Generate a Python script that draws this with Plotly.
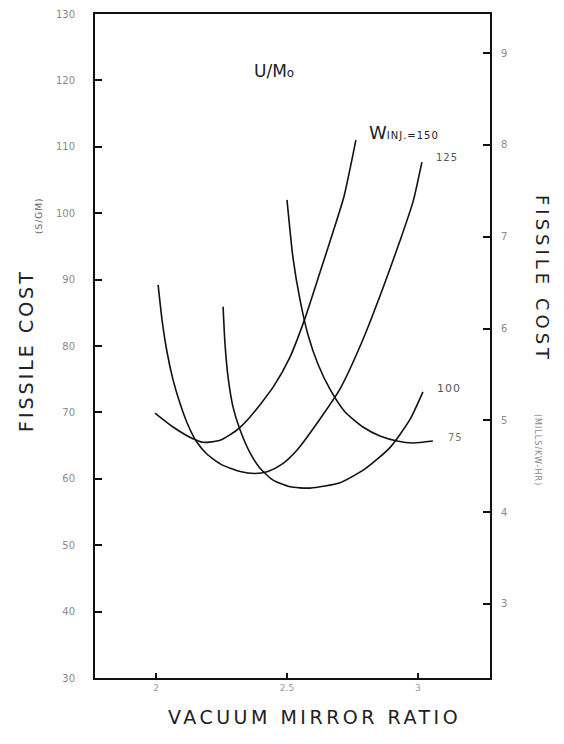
import plotly.graph_objects as go

# ---- data ----
w150_ratio = [1.996, 2.065, 2.137, 2.179, 2.244, 2.309, 2.359, 2.447, 2.511, 2.569, 2.626, 2.676, 2.718, 2.763]
w150_cost = [69.9, 67.8, 66.1, 65.5, 65.8, 67.35, 69.3, 73.8, 78.3, 84.2, 91.1, 97.2, 102.6, 111.0]

w125_ratio = [2.008, 2.023, 2.042, 2.065, 2.092, 2.122, 2.153, 2.195, 2.252, 2.321, 2.378, 2.427, 2.481, 2.542,
              2.626, 2.702, 2.786, 2.866, 2.931, 2.981, 3.015]
w125_cost = [89.2, 83.9, 79.1, 74.9, 71.3, 68.1, 65.7, 63.7, 62.1, 61.1, 60.8, 61.1, 62.2, 64.5,
             69.0, 73.5, 80.6, 88.7, 95.8, 101.7, 107.7]

w100_ratio = [2.256, 2.263, 2.275, 2.294, 2.321, 2.359, 2.397, 2.447, 2.511, 2.588, 2.702, 2.798, 2.893, 2.969, 3.019]
w100_cost = [85.9, 80.5, 75.3, 70.8, 67.35, 63.9, 61.6, 59.8, 58.8, 58.6, 59.4, 61.5, 64.7, 68.9, 73.1]

w75_ratio = [2.500, 2.523, 2.550, 2.580, 2.618, 2.664, 2.721, 2.790, 2.855, 2.920, 2.981, 3.057]
w75_cost = [102.0, 93.25, 86.9, 81.7, 77.3, 73.5, 70.1, 67.8, 66.45, 65.7, 65.4, 65.7]

x_tickvals = [2, 2.5, 3]
x_ticktext = ["2", "2.5", "3"]
left_tickvals = [30, 40, 50, 60, 70, 80, 90, 100, 110, 120, 130]
right_tickvals = [3, 4, 5, 6, 7, 8, 9]

series = [
    (w150_ratio, w150_cost, "150"),
    (w125_ratio, w125_cost, "125"),
    (w100_ratio, w100_cost, "100"),
    (w75_ratio, w75_cost, "75"),
]

fig = go.Figure()
for xs, ys, name in series:
    fig.add_trace(go.Scatter(x=xs, y=ys, mode="lines", name=name,
                             line=dict(color="#111111", width=1.6, shape="spline", smoothing=0.6),
                             showlegend=False, hoverinfo="skip"))

# dummy trace for right axis
fig.add_trace(go.Scatter(x=[None], y=[None], yaxis="y2", showlegend=False))

FONT = "DejaVu Sans, Arial, sans-serif"
tickfont = dict(family=FONT, size=10, color="#8a8a8a")

# page body adds an 8px margin; figure sized to fit the 564x744 window
fig.update_layout(
    width=548, height=728,
    margin=dict(l=87, r=66, t=6, b=58, autoexpand=False),
    paper_bgcolor="white", plot_bgcolor="white",
    xaxis=dict(range=[1.767, 3.275], tickvals=x_tickvals, ticktext=x_ticktext,
               ticks="inside", ticklen=5, tickwidth=1.5, tickcolor="#111",
               showline=True, linecolor="#111", linewidth=1.8, mirror=True, automargin=False,
               showgrid=False, zeroline=False, tickfont=dict(family=FONT, size=9, color="#999")),
    yaxis=dict(range=[30, 130], tickvals=left_tickvals,
               ticks="inside", ticklen=7, tickwidth=1.8, tickcolor="#111",
               showline=True, linecolor="#111", linewidth=2, mirror=True, automargin=False,
               showgrid=False, zeroline=False, tickfont=tickfont, ticklabelstandoff=16),
    yaxis2=dict(range=[2.194, 9.425], tickvals=right_tickvals, overlaying="y", side="right",
                ticks="inside", ticklen=7, tickwidth=1.8, tickcolor="#111", automargin=False,
                showline=False, showgrid=False, zeroline=False, tickfont=tickfont,
                ticklabelstandoff=10),
)

# positions given in screenshot pixels, plot area spans x 95..490, y 14..678
def px(xp):
    return (xp - 95) / 395.0

def py(yp):
    return (678 - yp) / 664.0

sp = lambda s, ls: f"<span style='letter-spacing:{ls}px'>{s}</span>"

annots = [
    dict(text=sp("FISSILE COST", 3), x=px(26), y=py(351), textangle=-90,
         font=dict(family=FONT, size=19, color="#222")),
    dict(text=sp("(S/GM)", 1), x=px(39), y=py(216), textangle=-90,
         font=dict(family=FONT, size=9, color="#666")),
    dict(text=sp("FISSILE COST", 4), x=px(543), y=py(279), textangle=90,
         font=dict(family=FONT, size=18, color="#222")),
    dict(text=sp("(MILLS/KW-HR)", 1), x=px(537), y=py(450), textangle=90,
         font=dict(family=FONT, size=8, color="#888")),
    dict(text=sp("VACUUM MIRROR RATIO", 3.5), x=px(314), y=py(717),
         font=dict(family=FONT, size=19, color="#222")),
    dict(text="U/M<span style='font-size:12px'>o</span>", x=px(274), y=py(71),
         font=dict(family=FONT, size=17, color="#222")),
    dict(text="W<span style='font-size:10px;letter-spacing:1px'>INJ.=150</span>", x=px(404), y=py(132),
         font=dict(family=FONT, size=18, color="#222")),
    dict(text=sp("125", 1), x=px(447), y=py(157), font=dict(family=FONT, size=10, color="#555")),
    dict(text=sp("100", 1), x=px(449), y=py(389), font=dict(family=FONT, size=11, color="#555")),
    dict(text=sp("75", 1), x=px(455), y=py(438), font=dict(family=FONT, size=10, color="#777")),
]
for a in annots:
    a.update(xref="paper", yref="paper", showarrow=False, xanchor="center", yanchor="middle")
fig.update_layout(annotations=annots)

fig.write_html("out.html")
